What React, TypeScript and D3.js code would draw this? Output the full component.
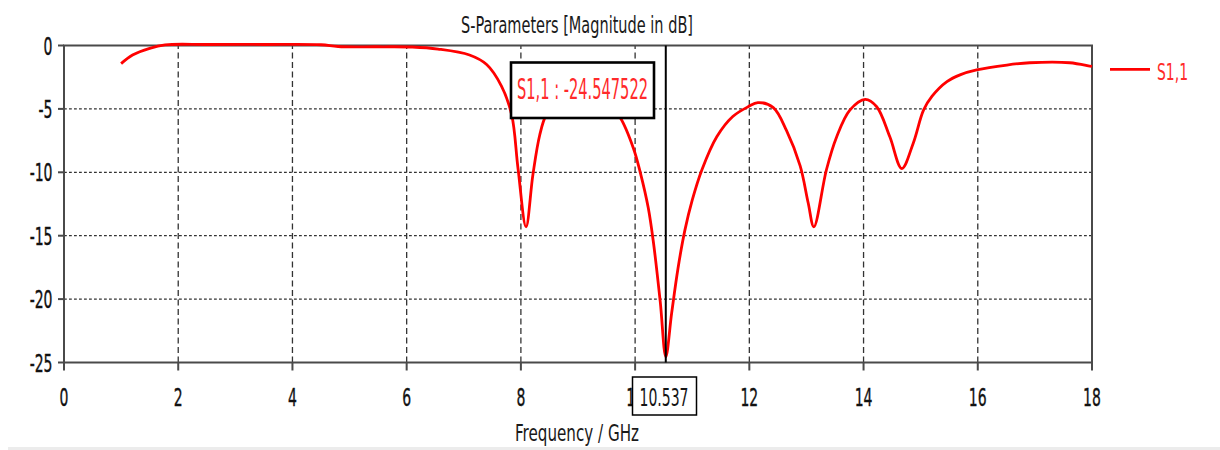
import React from "react";
import * as d3 from "d3";

// ---- data ----
const FREQ_GHZ = [
  1.0, 1.2, 1.5, 1.77, 2.5, 3.5, 4.5, 4.8, 5.5, 6.1, 6.55, 7.1, 7.4, 7.66, 7.84, 7.95,
  8.09, 8.21, 8.33, 8.45, 8.7, 9.0, 9.3, 9.6, 9.74, 9.97, 10.09, 10.23, 10.32, 10.44,
  10.537, 10.64, 10.75, 10.87, 11.0, 11.17, 11.43, 11.71, 11.98, 12.15, 12.42, 12.65,
  12.89, 13.03, 13.13, 13.35, 13.53, 13.76, 14.03, 14.23, 14.46, 14.67, 14.87, 15.05,
  15.2, 15.46, 15.7, 15.98, 16.51, 16.91, 17.61, 17.96, 18.0,
];
const S11_DB = [
  -1.43, -0.75, -0.22, 0.05, 0.08, 0.08, 0.06, -0.08, -0.1, -0.12, -0.28, -0.75, -1.5, -3.2, -5.5, -9.7,
  -14.3, -10.2, -7.06, -5.4, -4.1, -3.4, -3.9, -5.0, -5.7, -8.1, -10.0, -12.8, -15.5, -20.2,
  -24.547522, -21.1, -17.6, -14.6, -12.2, -9.8, -7.2, -5.6, -4.83, -4.5, -4.9, -6.7,
  -9.5, -12.4, -14.3, -9.8, -7.2, -5.1, -4.25, -4.83, -7.2, -9.7, -7.7, -5.1,
  -4.0, -2.85, -2.3, -1.93, -1.54, -1.36, -1.36, -1.62, -1.65,
];
const X_TICKS = [0, 2, 4, 6, 8, 10, 12, 14, 16, 18];
const Y_TICKS = [0, -5, -10, -15, -20, -25];
const SERIES_NAME = "S1,1";
const MARKER_FREQ = 10.537;
const MARKER_VALUE = -24.547522;
const TITLE = "S-Parameters [Magnitude in dB]";
const X_LABEL = "Frequency / GHz";

const FONT = "'DejaVu Sans', sans-serif";
const SX = 0.56;

function SqText(props: {
  x: number; y: number; size: number; anchor?: string; fill?: string; children: React.ReactNode;
}) {
  const { x, y, size, anchor = "start", fill = "#111", children } = props;
  return (
    <text
      transform={`translate(${x},${y}) scale(${SX},1)`}
      fontFamily={FONT}
      fontSize={size}
      textAnchor={anchor}
      fill={fill}
      stroke={fill}
      strokeWidth={0.4}
    >
      {children}
    </text>
  );
}

export default function App() {
  const x = d3.scaleLinear().domain([0, 18]).range([64, 1092]);
  const y = d3.scaleLinear().domain([-25, 0]).range([362.5, 45.5]);
  const pts: [number, number][] = FREQ_GHZ.map((f, i) => [f, S11_DB[i]]);
  const line = d3
    .line<[number, number]>()
    .x((d) => x(d[0]))
    .y((d) => y(d[1]))
    .curve(d3.curveCatmullRom.alpha(0.5));

  const [x0, x1] = x.range();
  const [yb, yt] = y.range();
  const mx = x(MARKER_FREQ);
  const red = "#ff0000";

  return (
    <svg
      width={1220}
      height={450}
      style={{ position: "absolute", left: 0, top: 0, background: "#fff" }}
    >
      <rect x={0} y={0} width={1220} height={450} fill="#fff" />
      {/* title */}
      <text x={461} y={33} fontFamily={FONT} fontSize={23} fill="#1a1a1a" textLength={232} lengthAdjust="spacingAndGlyphs">
        {TITLE}
      </text>

      {/* grid */}
      {X_TICKS.filter((t) => t > 0 && t < 18).map((t) => (
        <line key={"vx" + t} x1={x(t)} x2={x(t)} y1={yb} y2={yt} stroke="#333" strokeWidth={1.3} strokeDasharray="6,3.5" />
      ))}
      {Y_TICKS.filter((t) => t < 0 && t > -25).map((t) => (
        <line key={"hy" + t} x1={x0} x2={x1} y1={y(t)} y2={y(t)} stroke="#333" strokeWidth={1.3} strokeDasharray="2.8,2.2" />
      ))}

      {/* frame */}
      <rect x={x0} y={yt} width={x1 - x0} height={yb - yt} fill="none" stroke="#4a4a4a" strokeWidth={2} />
      {X_TICKS.map((t) => (
        <line key={"tx" + t} x1={x(t)} x2={x(t)} y1={yb} y2={yb + 8} stroke="#4a4a4a" strokeWidth={2} />
      ))}
      {Y_TICKS.map((t) => (
        <line key={"ty" + t} x1={x0 - 6} x2={x0} y1={y(t)} y2={y(t)} stroke="#4a4a4a" strokeWidth={2} />
      ))}

      {/* tick labels */}
      {X_TICKS.map((t) => (
        <SqText key={"lx" + t} x={x(t)} y={406} size={25} anchor="middle">
          {String(t)}
        </SqText>
      ))}
      {Y_TICKS.map((t) => (
        <SqText key={"ly" + t} x={52.5} y={y(t) + 9} size={25} anchor="end">
          {String(t)}
        </SqText>
      ))}

      {/* curve */}
      <path d={line(pts) || ""} fill="none" stroke={red} strokeWidth={2.8} strokeLinejoin="round" />

      {/* marker line */}
      <line x1={mx} x2={mx} y1={yt} y2={yb} stroke="#000" strokeWidth={2} />

      {/* marker value box */}
      <rect x={511} y={62.5} width={143} height={55.5} fill="#fff" stroke="#000" strokeWidth={2.6} />
      <text x={517} y={98.5} fontFamily={FONT} fontSize={28} fill="#ff2a2a" textLength={131} lengthAdjust="spacingAndGlyphs">
        {`${SERIES_NAME} : ${MARKER_VALUE.toFixed(6)}`}
      </text>

      {/* marker frequency box */}
      <rect x={632.5} y={377} width={64} height={38} fill="#fff" stroke="#000" strokeWidth={1.5} />
      <text x={639.5} y={406} fontFamily={FONT} fontSize={25} fill="#151515" textLength={49} lengthAdjust="spacingAndGlyphs">
        {MARKER_FREQ.toFixed(3)}
      </text>

      {/* axis label */}
      <text x={515} y={441} fontFamily={FONT} fontSize={23} fill="#1a1a1a" textLength={124} lengthAdjust="spacingAndGlyphs">
        {X_LABEL}
      </text>

      {/* legend */}
      <line x1={1110} x2={1150} y1={69.3} y2={69.3} stroke={red} strokeWidth={2.8} />
      <text x={1157} y={80} fontFamily={FONT} fontSize={23} fill="#ff2a2a" textLength={31} lengthAdjust="spacingAndGlyphs">
        {SERIES_NAME}
      </text>

      {/* bottom window edge */}
      <rect x={8} y={447} width={1212} height={3} fill="#ececec" />
    </svg>
  );
}
